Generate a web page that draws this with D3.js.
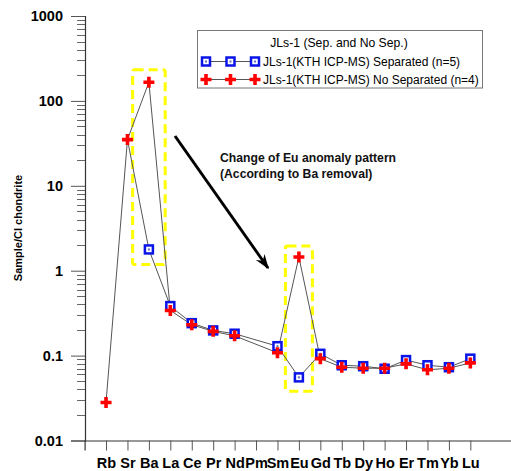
<!DOCTYPE html>
<html><head><meta charset="utf-8">
<script src="https://cdn.jsdelivr.net/npm/d3@7"></script>
<style>
body{margin:0;background:#fff;}
text{font-family:Arial,"Liberation Sans",sans-serif;}
</style></head>
<body><svg id="c" width="511" height="471"></svg>
<script>
const elements = ["Rb","Sr","Ba","La","Ce","Pr","Nd","Pm","Sm","Eu","Gd","Tb","Dy","Ho","Er","Tm","Yb","Lu"];
const separated = [null,35,1.78,0.383,0.241,0.198,0.181,null,0.129,0.0554,0.105,0.077,0.075,0.070,0.0885,0.077,0.073,0.092];
const separatedNoMarker = ["Sr"];
const noSeparated = [0.028,35,166,0.34,0.231,0.193,0.171,null,0.108,1.45,0.092,0.073,0.071,0.071,0.080,0.068,0.071,0.082];
const yTicks = [0.01,0.1,1,10,100,1000];
const yTickLabels = ["0.01","0.1","1","10","100","1000"];
const legendTitle = "JLs-1 (Sep. and No Sep.)";
const seriesNames = ["JLs-1(KTH ICP-MS) Separated (n=5)","JLs-1(KTH ICP-MS) No Separated (n=4)"];
const noteLines = ["Change of Eu anomaly pattern","(According to Ba removal)"];
// highlight boxes: [element index, half-width in index units, low value, high value]
const boxes = [[2,0.76,1.18,233],[9,0.63,0.038,1.95]];

const svg = d3.select("#c");
const x = d3.scaleLinear().domain([-1,19]).range([84.6,513.2]);
const y = d3.scaleLog().domain([0.01,1000]).range([440.5,16]);

// axes
const gx = svg.append("g").attr("transform","translate(0,440.5)")
  .call(d3.axisBottom(x).tickValues(d3.range(elements.length)).tickSize(10).tickPadding(5).tickFormat(i=>elements[i]));
gx.select(".domain").attr("stroke","#333").attr("stroke-width",1.2);
gx.selectAll(".tick line").attr("stroke","#555");
gx.selectAll(".tick text").attr("font-size",14.5).attr("font-weight","bold").attr("fill","#000")
  .attr("font-family","Arial,'Liberation Sans',sans-serif").attr("dy","0.85em");

const minor = [];
for (let d=0.01; d<1000; d*=10) for (let k=2;k<=9;k++) minor.push(d*k);
svg.append("g").selectAll("line").data(minor).join("line")
  .attr("x1",77).attr("x2",85).attr("y1",d=>Math.round(y(d))+0.5).attr("y2",d=>Math.round(y(d))+0.5)
  .attr("stroke","#666").attr("stroke-width",1);
const gy = svg.append("g").attr("transform","translate(85,0)")
  .call(d3.axisLeft(y).tickValues(yTicks).tickSize(14).tickPadding(8).tickFormat((d,i)=>yTickLabels[i]));
gy.select(".domain").attr("stroke","#333").attr("stroke-width",1.2);
gy.selectAll(".tick line").attr("stroke","#555");
gy.selectAll(".tick text").attr("font-size",14.5).attr("font-weight","bold").attr("fill","#000")
  .attr("font-family","Arial,'Liberation Sans',sans-serif");

svg.append("text").attr("transform","translate(22,228) rotate(-90)").attr("text-anchor","middle")
  .attr("font-size",11).attr("font-weight","bold").text("Sample/CI chondrite");

// highlight boxes
svg.append("g").selectAll("rect").data(boxes).join("rect")
  .attr("x",d=>x(d[0]-d[1])).attr("width",d=>x(d[0]+d[1])-x(d[0]-d[1]))
  .attr("y",d=>y(d[3])).attr("height",d=>y(d[2])-y(d[3]))
  .attr("fill","none").attr("stroke","#ffff00").attr("stroke-width",3).attr("stroke-dasharray","9,5").attr("rx",2);

// lines
const line = d3.line().x(d=>x(d.i)).y(d=>y(d.v));
function pts(arr){return arr.map((v,i)=>({i,v})).filter(d=>d.v!=null);}
[separated,noSeparated].forEach(arr=>{
  svg.append("path").datum(pts(arr)).attr("d",line).attr("fill","none").attr("stroke","#555").attr("stroke-width",1);
});

// markers
function square(g,cx,cy){
  g.append("rect").attr("x",cx-4).attr("y",cy-4).attr("width",8).attr("height",8)
   .attr("fill","#fff").attr("stroke","#0a14e6").attr("stroke-width",2.5);
  g.append("rect").attr("x",cx-1).attr("y",cy-1).attr("width",2).attr("height",2).attr("fill","#6070c0");
}
function plus(g,cx,cy){
  g.append("path").attr("d",`M${cx-5.5},${cy}H${cx+5.5}M${cx},${cy-5.5}V${cy+5.5}`)
   .attr("stroke","#ff0000").attr("stroke-width",3.6).attr("fill","none");
}
const gs = svg.append("g");
pts(separated).filter(d=>!separatedNoMarker.includes(elements[d.i])).forEach(d=>square(gs,x(d.i),y(d.v)));
const gp = svg.append("g");
pts(noSeparated).forEach(d=>plus(gp,x(d.i),y(d.v)));

// legend
const lg = svg.append("g");
lg.append("rect").attr("x",197.5).attr("y",30.5).attr("width",285).attr("height",57.5)
  .attr("fill","#fff").attr("stroke","#777").attr("stroke-width",1);
lg.append("text").attr("x",339).attr("y",47).attr("text-anchor","middle").attr("font-size",12.2).text(legendTitle);
[0,1].forEach(k=>{
  const yy = 61.5 + k*18;
  lg.append("line").attr("x1",206).attr("x2",255).attr("y1",yy).attr("y2",yy).attr("stroke","#555");
  [206,230.5,255].forEach(px=> k===0 ? square(lg,px,yy) : plus(lg,px,yy));
  lg.append("text").attr("x",263).attr("y",yy+4.3).attr("font-size",12).text(seriesNames[k]);
});

// arrow
svg.append("defs").append("marker").attr("id","ah").attr("viewBox","0 0 10 10").attr("refX",9).attr("refY",5)
  .attr("markerWidth",7).attr("markerHeight",5).attr("orient","auto").attr("markerUnits","strokeWidth")
  .append("path").attr("d","M0,1.5L10,5L0,8.5L3,5Z").attr("fill","#000");
svg.append("line").attr("x1",175).attr("y1",136).attr("x2",268).attr("y2",268)
  .attr("stroke","#000").attr("stroke-width",3).attr("marker-end","url(#ah)");

// note
noteLines.forEach((t,i)=>svg.append("text").attr("x",220).attr("y",162+i*16).attr("font-size",12.2).attr("font-weight","bold").attr("fill","#111").text(t));
</script></body></html>
